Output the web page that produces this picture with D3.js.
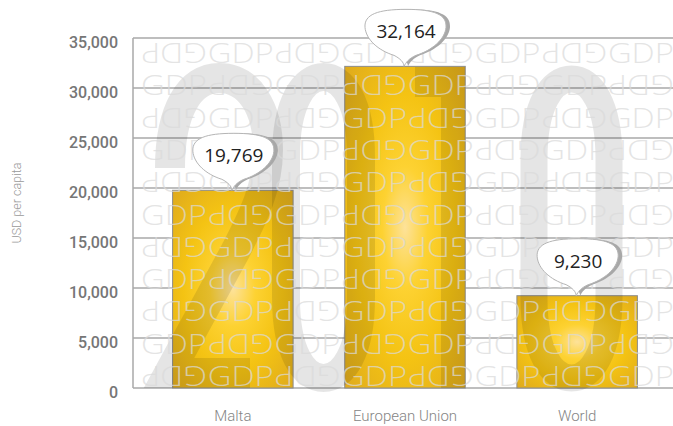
<!DOCTYPE html>
<html>
<head>
<meta charset="utf-8">
<script src="https://cdn.jsdelivr.net/npm/d3@7"></script>
<style>
  body { margin: 0; background: #fff; }
  svg { display: block; }
</style>
</head>
<body>
<svg width="673" height="426"></svg>
<script>
// chart values
var categories = ["Malta", "European Union", "World"];
var values = [19769, 32164, 9230];
var yTicks = [0, 5000, 10000, 15000, 20000, 25000, 30000, 35000];
var yTitle = "USD per capita";
var patternWord = "GDP";

var svg = d3.select("svg");
var defs = svg.append("defs");

var plot = { left: 133, right: 677, top: 38, bottom: 388 };

var x = d3.scaleBand()
  .domain(categories)
  .range([plot.left, plot.right])
  .paddingInner(0.3)
  .paddingOuter(0.23);

var y = d3.scaleLinear()
  .domain([0, 35000])
  .range([plot.bottom, plot.top]);

var g = {
  grid: svg.append("g").attr("id", "grid"),
  bars: svg.append("g").attr("id", "bars"),
  mark: svg.append("g").attr("id", "watermark"),
  pattern: svg.append("g").attr("id", "pattern"),
  axes: svg.append("g").attr("id", "axes"),
  bubbles: svg.append("g").attr("id", "bubbles")
};

// gold radial fill for the bars
var grad = defs.append("radialGradient")
  .attr("id", "gold")
  .attr("cx", 0.5).attr("cy", 0.5).attr("r", 0.75);
grad.append("stop").attr("offset", "0%").attr("stop-color", "#fde29a");
grad.append("stop").attr("offset", "25%").attr("stop-color", "#fdd232");
grad.append("stop").attr("offset", "55%").attr("stop-color", "#f4c313");
grad.append("stop").attr("offset", "100%").attr("stop-color", "#dba61f");

// gridlines
g.grid.selectAll("line.grid")
  .data(yTicks)
  .enter()
  .append("line")
  .attr("class", "grid")
  .attr("x1", plot.left)
  .attr("x2", 673)
  .attr("y1", function(d) { return y(d); })
  .attr("y2", function(d) { return y(d); })
  .attr("stroke", "#a9a9a9")
  .attr("stroke-width", 1.5);

g.grid.append("line")
  .attr("x1", plot.left).attr("x2", plot.left)
  .attr("y1", y(35000)).attr("y2", y(0))
  .attr("stroke", "#a9a9a9")
  .attr("stroke-width", 1.5);

// bars
g.bars.selectAll("rect")
  .data(values)
  .enter()
  .append("rect")
  .attr("x", function(d, i) { return x(categories[i]); })
  .attr("y", function(d) { return y(d); })
  .attr("width", x.bandwidth())
  .attr("height", function(d) { return y(0) - y(d); })
  .attr("fill", "url(#gold)")
  .attr("stroke", "#8c8c8c")
  .attr("stroke-width", 1);

// big "2010" watermark drawn as strokes
var wm = "rgba(0,0,0,0.1)";
g.mark.append("path")
  .attr("d", "M170,168 C170,110 190,78 219,78 C249,78 268,108 268,150 C268,190 250,222 236,250 L169,373 L250,373")
  .attr("fill", "none")
  .attr("stroke", wm)
  .attr("stroke-width", 30);
g.mark.append("path")
  .attr("d", stadium(286, 361, 77, 378))
  .attr("fill", "none")
  .attr("stroke", wm)
  .attr("stroke-width", 28);
g.mark.append("path")
  .attr("d", "M415,67 L465,67 L465,388 L441,388 L441,97 L415,97 Z")
  .attr("fill", wm);
g.mark.append("path")
  .attr("d", stadium(534, 609, 79, 378))
  .attr("fill", "none")
  .attr("stroke", wm)
  .attr("stroke-width", 27);

function stadium(x0, x1, y0, y1) {
  var cx = (x0 + x1) / 2;
  return "M" + x0 + "," + (y0 + 80) +
    " C" + x0 + "," + (y0 + 25) + " " + (x0 + 18) + "," + y0 + " " + cx + "," + y0 +
    " C" + (x1 - 18) + "," + y0 + " " + x1 + "," + (y0 + 25) + " " + x1 + "," + (y0 + 80) +
    " L" + x1 + "," + (y1 - 80) +
    " C" + x1 + "," + (y1 - 25) + " " + (x1 - 18) + "," + y1 + " " + cx + "," + y1 +
    " C" + (x0 + 18) + "," + y1 + " " + x0 + "," + (y1 - 25) + " " + x0 + "," + (y1 - 80) + " Z";
}

// repeated GDP pattern, every other word turned upside down
var rowGap = 32.3, colGap = 66.7;
var rows = d3.range(11), cols = d3.range(8);
rows.forEach(function(r) {
  var base = 63 + r * rowGap;
  cols.forEach(function(c) {
    var x0 = 141 + c * colGap;
    var t = g.pattern.append("text")
      .attr("x", x0)
      .attr("y", base)
      .attr("textLength", 66)
      .attr("lengthAdjust", "spacingAndGlyphs")
      .text(patternWord);
    if ((r + c) % 2 === 0) t.attr("transform", "rotate(180," + (x0 + 33) + "," + (base - 10) + ")");
  });
});
g.pattern
  .attr("font-family", "'Open Sans', sans-serif")
  .attr("font-weight", 300)
  .attr("font-size", 28)
  .attr("fill", "#dadada")
  .attr("fill-opacity", 0.72);

// y axis labels
var yAxis = d3.axisLeft(y)
  .tickValues(yTicks)
  .tickFormat(d3.format(","))
  .tickSize(0)
  .tickPadding(0);
var ya = g.axes.append("g")
  .attr("transform", translate(118, 0))
  .call(yAxis);
ya.select(".domain").remove();
ya.selectAll("text")
  .attr("dy", "0.32em")
  .attr("y", 4.5)
  .attr("fill", "#767676")
  .attr("font-family", "Roboto, sans-serif")
  .attr("font-weight", 500)
  .attr("font-size", 16);

// x axis labels
var xAxis = d3.axisBottom(x).tickSize(0).tickPadding(0);
var xa = g.axes.append("g")
  .attr("transform", translate(0, 410))
  .call(xAxis);
xa.select(".domain").remove();
xa.selectAll("text")
  .attr("dy", "0.71em")
  .attr("fill", "#858585")
  .attr("font-family", "Roboto, sans-serif")
  .attr("font-weight", 300)
  .attr("font-size", 15);

g.axes.append("text")
  .attr("transform", "translate(21,203) rotate(-90)")
  .attr("text-anchor", "middle")
  .attr("fill", "#9a9a9a")
  .attr("font-family", "Roboto, sans-serif")
  .attr("font-weight", 300)
  .attr("font-size", 12.5)
  .text(yTitle);

// speech bubbles with the values
var bubblePath = "M0,0 C0,-4 -4,-8 -10,-11 C-26,-16 -38,-27 -39,-39 " +
  "C-40,-52 -26,-57 2,-57 C30,-57 43,-52 42,-39 C41,-27 28,-16 12,-11 C5,-8 2,-4 0,0 Z";

var bubble = g.bubbles.selectAll("g.bubble")
  .data(values)
  .enter()
  .append("g")
  .attr("class", "bubble")
  .attr("transform", function(d, i) {
    return translate(x(categories[i]) + x.bandwidth() / 2 - 1, y(d));
  });

bubble.append("path")
  .attr("d", bubblePath)
  .attr("transform", translate(4, 0))
  .attr("fill", "#a8a8a8");
bubble.append("path")
  .attr("d", bubblePath)
  .attr("fill", "#fff")
  .attr("stroke", "#b5b5b5")
  .attr("stroke-width", 1);
bubble.append("text")
  .attr("x", 2)
  .attr("y", -28)
  .attr("text-anchor", "middle")
  .attr("fill", "#222")
  .attr("font-family", "'Open Sans', sans-serif")
  .attr("font-size", 19)
  .text(function(d) { return d3.format(",")(d); });

function translate(x, y) {
  return "translate(" + String(x) + "," + String(y) + ")";
}
</script>
</body>
</html>
